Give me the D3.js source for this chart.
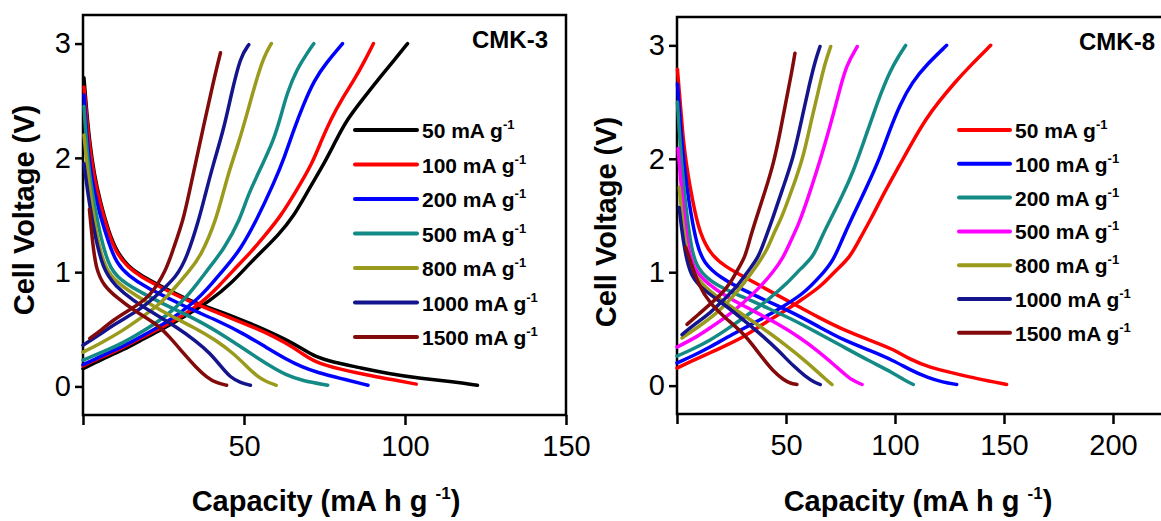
<!DOCTYPE html>
<html>
<head>
<meta charset="utf-8">
<script src="https://cdn.jsdelivr.net/npm/d3@7"></script>
<style>
  body { margin: 0; background: #fff; }
  svg { display: block; }
  text { font-family: "Liberation Sans", Arial, sans-serif; fill: #000; }
</style>
</head>
<body>
<svg id="chart" width="1161" height="521"></svg>
<script>
// rate labels (mA g-1) and line colours for each panel
var rates = ["50", "100", "200", "500", "800", "1000", "1500"];
var cmk3Colors = ["#000000", "#ff0000", "#0000ff", "#138a86", "#9a9a1c", "#14148c", "#820a0a"];
var cmk8Colors = ["#ff0000", "#0000ff", "#138a86", "#ff00ff", "#9a9a1c", "#14148c", "#820a0a"];

var xTicks3 = [0, 50, 100, 150];
var xTicks8 = [0, 50, 100, 150, 200];
var yTicks = [0, 1, 2, 3];

// CMK-3 discharge curves [capacity, voltage], one per rate
var cmk3Discharge = [
  [[0.3,2.7],[1,2.45],[2,2.15],[3.5,1.85],[5.3,1.62],[8,1.35],[10.5,1.18],[14,1.05],[18,0.97],[24,0.88],[31,0.78],[37,0.71],[44,0.64],[51,0.56],[57,0.49],[63,0.41],[67.5,0.34],[72,0.26],[78,0.21],[85,0.17],[95,0.11],[105,0.07],[115,0.04],[122.5,0.01]],
  [[0.3,2.62],[1,2.4],[2,2.1],[3.5,1.82],[5.3,1.6],[8,1.33],[10.5,1.16],[14,1.04],[18,0.96],[24,0.87],[31,0.77],[37,0.7],[44,0.62],[51,0.54],[57,0.47],[63,0.38],[67.5,0.3],[72,0.21],[80,0.15],[88,0.1],[96,0.06],[103.5,0.02]],
  [[0.3,2.55],[1,2.25],[2,1.95],[3.5,1.7],[5.3,1.5],[8,1.25],[10.4,1.08],[14,0.97],[20,0.86],[26,0.78],[33,0.68],[41.5,0.58],[50,0.46],[57,0.34],[63,0.24],[68,0.17],[73,0.12],[80,0.07],[88.5,0.01]],
  [[0.3,2.45],[1,2.15],[2,1.85],[3.5,1.6],[5.5,1.3],[8.3,1.02],[13,0.9],[20.8,0.78],[28,0.68],[36.3,0.57],[44,0.44],[52,0.29],[58,0.18],[63,0.1],[68,0.05],[76,0.01]],
  [[0.3,2.2],[1,2.0],[2,1.75],[3.5,1.45],[5.5,1.15],[8.3,0.96],[14,0.84],[20.8,0.72],[27,0.62],[34.3,0.52],[41,0.41],[46.7,0.29],[51,0.17],[54,0.09],[57,0.04],[60,0.01]],
  [[0.3,1.95],[1,1.8],[2,1.6],[3.5,1.35],[6.2,1.02],[10,0.88],[15.6,0.75],[22,0.64],[29,0.52],[35,0.4],[39.5,0.29],[43,0.17],[45.7,0.08],[49,0.03],[52,0.01]],
  [[2,1.55],[3,1.25],[4.1,1.02],[6.5,0.88],[10.4,0.78],[16,0.66],[22.8,0.55],[27,0.43],[31.2,0.29],[35,0.17],[38.4,0.08],[41.5,0.03],[44.6,0.01]]
];

// CMK-3 charge curves
var cmk3Charge = [
  [[0,0.155],[6,0.24],[12.5,0.32],[19,0.42],[25.9,0.52],[32,0.62],[39.5,0.75],[46,0.9],[51.9,1.08],[56.2,1.2],[60.5,1.32],[65.5,1.49],[70,1.72],[74.9,1.95],[78.5,2.15],[82.1,2.34],[86.5,2.5],[91.5,2.68],[96.5,2.85],[100.8,3.0]],
  [[0,0.18],[6,0.26],[12.5,0.34],[19,0.44],[26,0.54],[31,0.62],[36.3,0.72],[42,0.87],[47.8,1.05],[52,1.17],[56.5,1.32],[61.4,1.49],[66,1.7],[71.2,1.95],[74,2.15],[77,2.34],[80.5,2.52],[84.2,2.68],[87.5,2.85],[90.2,3.0]],
  [[0,0.19],[6,0.27],[12.5,0.35],[19,0.45],[26,0.56],[35.3,0.75],[40,0.9],[44.6,1.05],[48.9,1.2],[54,1.46],[59.3,1.78],[62.5,2.0],[65.5,2.25],[68.5,2.47],[71.8,2.68],[75.5,2.83],[80.6,3.0]],
  [[0,0.23],[6,0.3],[12.5,0.38],[20.8,0.52],[26,0.62],[31.2,0.75],[35.5,0.9],[39.5,1.05],[43.7,1.2],[48.8,1.46],[51,1.66],[55,1.9],[59.3,2.16],[61.5,2.37],[63.4,2.57],[66.5,2.78],[69.7,2.92],[71.7,3.0]],
  [[0,0.3],[5,0.37],[12.5,0.49],[18,0.6],[23.9,0.72],[28.5,0.86],[33.2,1.02],[36.4,1.13],[41.5,1.46],[44.8,1.84],[48,2.1],[51,2.39],[53.5,2.65],[56.2,2.89],[58.5,3.0]],
  [[0,0.36],[5,0.45],[10,0.55],[17.7,0.67],[23,0.8],[29.1,0.96],[32.3,1.13],[36,1.46],[37.8,1.66],[40.5,1.95],[43.7,2.25],[46,2.55],[48.9,2.89],[51.5,2.99]],
  [[2.1,0.42],[6,0.5],[9.3,0.58],[15,0.68],[20.8,0.78],[25.9,1.02],[28,1.2],[31.2,1.46],[33,1.7],[35.4,2.01],[38,2.35],[40.6,2.68],[42.7,2.92]]
];

// CMK-8 discharge curves
var cmk8Discharge = [
  [[0.2,2.79],[1,2.6],[2,2.38],[2.9,2.16],[4.3,1.95],[6,1.75],[8,1.55],[10.6,1.34],[15.3,1.16],[22,1.05],[30.6,0.96],[42,0.84],[53.5,0.72],[65,0.6],[76.5,0.49],[88.5,0.4],[99.4,0.32],[106.9,0.23],[116,0.16],[126.8,0.11],[138,0.06],[151.2,0.01]],
  [[0.2,2.66],[1,2.45],[2,2.2],[3,2.0],[4.5,1.75],[6.5,1.5],[9,1.25],[12.2,1.08],[20,0.95],[30.6,0.84],[42,0.74],[53.5,0.64],[65,0.52],[76.5,0.4],[88.5,0.31],[99.4,0.22],[106.9,0.14],[115,0.07],[122,0.03],[128.3,0.01]],
  [[0.2,2.5],[1,2.25],[2,2.0],[3,1.78],[4.5,1.5],[6.5,1.22],[9.2,1.02],[18,0.88],[30.6,0.78],[42,0.68],[53.5,0.58],[65,0.46],[76.5,0.34],[88,0.22],[99.4,0.11],[104,0.05],[108.4,0.01]],
  [[0.5,2.09],[1.5,1.85],[3,1.55],[5,1.22],[7.6,1.02],[14,0.9],[22.9,0.78],[34,0.67],[45.9,0.55],[56,0.43],[65.7,0.29],[71,0.2],[76.5,0.11],[80,0.05],[84.9,0.01]],
  [[1,1.75],[2,1.55],[3.5,1.3],[6.1,1.02],[13,0.86],[22.9,0.72],[33,0.59],[42.8,0.46],[51,0.34],[58.1,0.23],[64,0.13],[68,0.06],[71.1,0.01]],
  [[1,1.57],[2,1.4],[3.5,1.2],[6.1,0.96],[13,0.83],[22.9,0.7],[31,0.57],[39.8,0.43],[47,0.3],[53.5,0.17],[59,0.08],[63,0.03],[65.7,0.01]],
  [[4,1.22],[6.1,1.1],[10,0.88],[15.3,0.72],[22,0.6],[30.6,0.46],[35,0.35],[39.8,0.23],[44,0.13],[48.9,0.05],[52,0.02],[55,0.01]]
];

// CMK-8 charge curves
var cmk8Charge = [
  [[0,0.155],[7,0.22],[15.3,0.29],[23,0.36],[30.6,0.43],[40,0.55],[50.5,0.67],[58,0.77],[65.8,0.87],[73,1.02],[79.4,1.13],[84,1.3],[89,1.47],[95,1.7],[102.3,1.95],[108,2.15],[114.5,2.36],[120,2.5],[126.8,2.66],[135,2.83],[143.9,3.0]],
  [[0,0.2],[7,0.26],[15.3,0.34],[25,0.45],[38.2,0.58],[48,0.69],[58.1,0.81],[66,0.97],[71.7,1.1],[76,1.3],[80,1.47],[87.5,1.77],[93.1,2.01],[97.5,2.25],[102.3,2.48],[108,2.68],[114.5,2.83],[123.7,3.0]],
  [[0,0.26],[7,0.32],[15.3,0.4],[24,0.51],[33.6,0.64],[42,0.76],[50.5,0.9],[57,1.04],[62.5,1.13],[66.5,1.32],[70.5,1.47],[76,1.68],[80.9,1.89],[85.5,2.14],[90,2.39],[94,2.6],[97.7,2.77],[101.5,2.9],[104.9,3.0]],
  [[0,0.34],[9.2,0.43],[16,0.52],[22.9,0.61],[30.5,0.73],[38.2,0.87],[44,1.0],[48.8,1.13],[52,1.27],[56,1.43],[60,1.65],[64.1,1.89],[68,2.14],[71.7,2.39],[74.5,2.6],[77.8,2.83],[82.7,2.99]],
  [[2.3,0.42],[10,0.52],[18.3,0.64],[24.5,0.76],[30.6,0.9],[36,1.04],[41.5,1.2],[44.5,1.35],[47.8,1.47],[53,1.74],[57.9,2.01],[61.5,2.33],[65.6,2.66],[68,2.85],[70.5,2.99]],
  [[2.3,0.45],[8,0.54],[15.3,0.64],[21,0.75],[27.5,0.87],[33,1.02],[37.3,1.13],[40,1.27],[44.2,1.49],[48.5,1.74],[53.4,2.01],[57,2.33],[61,2.68],[63.5,2.87],[65.6,2.99]],
  [[4.6,0.54],[10,0.63],[15.3,0.72],[20,0.8],[24.4,0.9],[28,1.03],[31.2,1.13],[33.5,1.3],[36.6,1.49],[40.5,1.72],[44.2,1.95],[47.5,2.25],[50.3,2.54],[52.5,2.75],[54.1,2.93]]
];

var svg = d3.select("#chart");

var panels = [
  { name: "CMK-3", left: 83, right: 566, top: 15, bottom: 415, xMax: 150, xTicks: xTicks3,
    dis: cmk3Discharge, chg: cmk3Charge, colors: cmk3Colors,
    legX: 355, legW: 62, legY: 130, legStep: 34.5,
    nameX: 548, nameY: 48, yTitleX: 34, yTitleY: 210, xTitleX: 326 },
  { name: "CMK-8", left: 677, right: 1222, top: 17, bottom: 414, xMax: 250, xTicks: xTicks8,
    dis: cmk8Discharge, chg: cmk8Charge, colors: cmk8Colors,
    legX: 959, legW: 51, legY: 130, legStep: 33.8,
    nameX: 1155, nameY: 50, yTitleX: 616, yTitleY: 222, xTitleX: 918 }
];

panels.forEach(function(p) {
  var x = d3.scaleLinear().domain([0, p.xMax]).range([p.left, p.right]);
  var y = d3.scaleLinear().domain([-0.25, 3.25]).range([p.bottom, p.top]);

  var line = d3.line()
      .x(function(d) { return x(d[0]); })
      .y(function(d) { return y(d[1]); })
      .curve(d3.curveBasis);

  var g = svg.append("g");

  // frame (top & right edges)
  g.append("rect")
      .attr("x", p.left).attr("y", p.top)
      .attr("width", p.right - p.left).attr("height", p.bottom - p.top)
      .attr("fill", "none").attr("stroke", "#000").attr("stroke-width", 2.5);

  // curves
  var curves = g.append("g").attr("fill", "none").attr("stroke-width", 3.5)
      .attr("stroke-linejoin", "round").attr("stroke-linecap", "round");
  rates.forEach(function(r, i) {
    curves.append("path").attr("d", line(p.dis[i])).attr("stroke", p.colors[i]);
    curves.append("path").attr("d", line(p.chg[i])).attr("stroke", p.colors[i]);
  });

  // axes
  var yAxis = d3.axisLeft(y).tickValues(yTicks).tickSize(8).tickSizeOuter(0).tickPadding(4)
      .tickFormat(d3.format("d"));
  var xAxis = d3.axisBottom(x).tickValues(p.xTicks).tickSize(10).tickSizeOuter(0).tickPadding(10)
      .tickFormat(function(d) { return d === 0 ? "" : d; });

  var ya = g.append("g").attr("transform", "translate(" + p.left + ",0)").call(yAxis);
  var xa = g.append("g").attr("transform", "translate(0," + p.bottom + ")").call(xAxis);
  [ya, xa].forEach(function(a) {
    a.select(".domain").remove();
    a.selectAll("line").attr("stroke", "#000").attr("stroke-width", 2.5);
    a.selectAll("text").attr("font-size", 29).attr("font-family", '"Liberation Sans", Arial, sans-serif')
        .attr("fill", "#000");
  });

  // sample name
  g.append("text").attr("x", p.nameX).attr("y", p.nameY)
      .attr("text-anchor", "end").attr("font-size", 24).attr("font-weight", "bold")
      .text(p.name);

  // legend
  rates.forEach(function(r, i) {
    var ly = p.legY + i * p.legStep;
    g.append("line")
        .attr("x1", p.legX).attr("x2", p.legX + p.legW)
        .attr("y1", ly).attr("y2", ly)
        .attr("stroke", p.colors[i]).attr("stroke-width", 4).attr("stroke-linecap", "round");
    var t = g.append("text").attr("x", p.legX + p.legW + 5).attr("y", ly + 8)
        .attr("font-size", 21).attr("font-weight", "bold");
    t.append("tspan").text(r + " mA g");
    t.append("tspan").attr("dy", -9).attr("font-size", 13).text("-1");
  });

  // axis titles
  g.append("text")
      .attr("transform", "translate(" + p.yTitleX + "," + p.yTitleY + ") rotate(-90)")
      .attr("text-anchor", "middle").attr("font-size", 29).attr("font-weight", "bold")
      .text("Cell Voltage (V)");

  var xt = g.append("text").attr("x", p.xTitleX).attr("y", 511)
      .attr("text-anchor", "middle").attr("font-size", 29).attr("font-weight", "bold");
  xt.append("tspan").text("Capacity (mA h g ");
  xt.append("tspan").attr("dy", -12).attr("font-size", 17).text("-1");
  xt.append("tspan").attr("dy", 12).text(")");
});
</script>
</body>
</html>
